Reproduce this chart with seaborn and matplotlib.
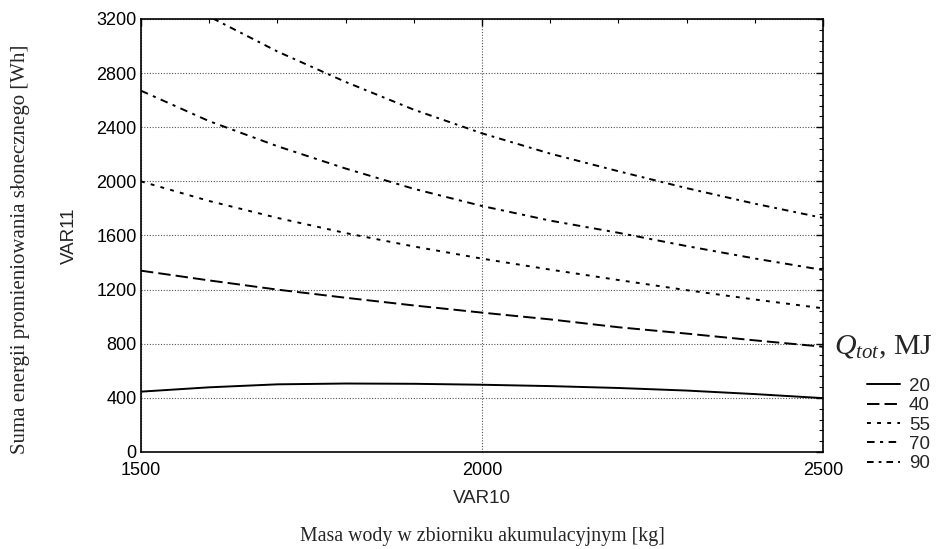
import matplotlib
matplotlib.use("Agg")
import matplotlib.pyplot as plt
from matplotlib.ticker import MultipleLocator
from matplotlib.lines import Line2D
import numpy as np
import pandas as pd
import seaborn as sns

# ---- data ----
mass_kg = [1500, 1600, 1700, 1800, 1900, 2000, 2100, 2200, 2300, 2400, 2500]
q_levels = ["20", "40", "55", "70", "90"]
energy_q20 = [446, 478, 500, 506, 504, 497, 487, 473, 454, 428, 398]
energy_q40 = [1340, 1268, 1200, 1140, 1083, 1030, 980, 922, 875, 825, 778]
energy_q55 = [2000, 1855, 1730, 1618, 1519, 1429, 1348, 1271, 1196, 1127, 1062]
energy_q70 = [2670, 2445, 2260, 2095, 1945, 1818, 1710, 1620, 1522, 1430, 1345]
energy_q90 = [3510, 3218, 2960, 2735, 2530, 2355, 2205, 2075, 1950, 1835, 1730]
x_ticks = [1500, 2000, 2500]
y_ticks = [0, 400, 800, 1200, 1600, 2000, 2400, 2800, 3200]

series = dict(zip(q_levels, [energy_q20, energy_q40, energy_q55, energy_q70, energy_q90]))
df = pd.concat([pd.DataFrame({"VAR10": mass_kg, "VAR11": v, "Q": k}) for k, v in series.items()],
               ignore_index=True)

sns.set_theme(style="white")
plt.rcParams["font.family"] = ["Liberation Sans", "DejaVu Sans"]
plt.rcParams["mathtext.fontset"] = "custom"
plt.rcParams["mathtext.rm"] = "Liberation Serif"
plt.rcParams["mathtext.it"] = "Liberation Serif:italic"

dash_styles = {
    "20": "",
    "40": (6.4, 2.6),
    "55": (2.0, 3.2),
    "70": (3.9, 2.8, 1.6, 2.8),
    "90": (3.4, 2.6, 1.4, 2.6),
}

fig = plt.figure(figsize=(9.41, 5.49), dpi=100)
ax = fig.add_axes([0.1498, 0.1767, 0.7248, 0.7887])

sns.lineplot(data=df, x="VAR10", y="VAR11", hue="Q", style="Q",
             palette=["black"] * 5, dashes=dash_styles, linewidth=1.4,
             legend=False, ax=ax)

ax.set_xlim(1500, 2500)
ax.set_ylim(0, 3200)
ax.set_xticks(x_ticks)
ax.set_yticks(y_ticks)
ax.xaxis.set_minor_locator(MultipleLocator(100))
ax.yaxis.set_minor_locator(MultipleLocator(80))
ax.tick_params(which="both", direction="in", top=True, right=True, colors="black",
               labelsize=13)
ax.tick_params(which="major", length=5, width=1)
ax.tick_params(which="minor", length=3, width=0.8)
ax.tick_params(axis="x", pad=7)
ax.tick_params(axis="y", pad=3)
ax.grid(True, which="major", linestyle=(0, (1, 1.5)), color="#555555", linewidth=0.8)
for s in ax.spines.values():
    s.set_color("black")
    s.set_linewidth(1.2)

ax.set_xlabel("VAR10", fontsize=13.5, labelpad=8)
ax.set_ylabel("VAR11", fontsize=13.5, labelpad=13)

fig.text(0.5128, 0.022, "Masa wody w zbiorniku akumulacyjnym [kg]",
         family="Liberation Serif", fontsize=14.3, ha="center", va="center")
fig.text(0.022, 0.545, "Suma energii promieniowania słonecznego [Wh]",
         family="Liberation Serif", fontsize=15, ha="center", va="center",
         rotation=90)

# legend
fig.text(0.886, 0.367, r"$Q_{tot}$, MJ", fontsize=21.5, ha="left", va="center",
         family="Liberation Serif")
handles = [Line2D([], [], color="black", linewidth=1.4,
                  linestyle="-" if dash_styles[q] == "" else (0, dash_styles[q]))
           for q in q_levels]
leg = fig.legend(handles, q_levels, loc="upper left", bbox_to_anchor=(0.921, 0.312),
                 frameon=False, fontsize=13.5, handlelength=1.76, handletextpad=0.5,
                 labelspacing=0.12, borderaxespad=0, borderpad=0)

fig.savefig("out.png", dpi=100, facecolor="white")
